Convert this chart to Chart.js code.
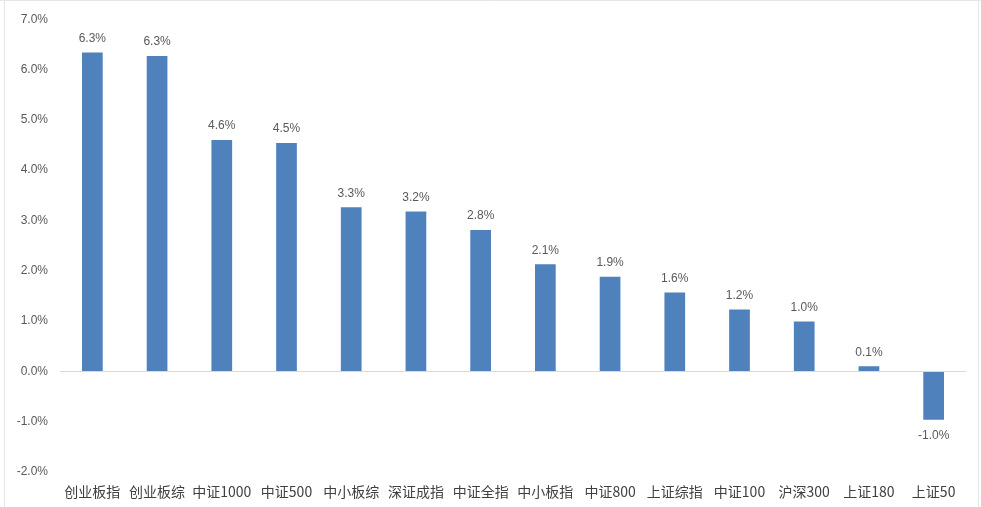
<!DOCTYPE html>
<html>
<head>
<meta charset="utf-8">
<script src="https://cdn.jsdelivr.net/npm/chart.js@4"></script>
<style>
  html, body { margin: 0; padding: 0; background: #fff; }
  #wrap { width: 981px; height: 507px; position: relative; }
</style>
</head>
<body>
<div id="wrap"><canvas id="barChart"></canvas></div>
<script>
const categories = ['创业板指', '创业板综', '中证1000', '中证500', '中小板综', '深证成指', '中证全指',
  '中小板指', '中证800', '上证综指', '中证100', '沪深300', '上证180', '上证50'];
const returns = [6.34, 6.27, 4.60, 4.54, 3.26, 3.18, 2.81, 2.13, 1.88, 1.57, 1.23, 0.99, 0.10, -0.96];
const yTicks = [-2, -1, 0, 1, 2, 3, 4, 5, 6, 7];

const barLabels = {
  id: 'barLabels',
  afterDatasetsDraw(chart) {
    const ctx = chart.ctx;
    const meta = chart.getDatasetMeta(0);
    ctx.save();
    ctx.font = '12px "Liberation Sans", Arial, sans-serif';
    ctx.fillStyle = '#595959';
    ctx.textAlign = 'center';
    ctx.textBaseline = 'middle';
    meta.data.forEach((bar, i) => {
      const v = returns[i];
      const y = v >= 0 ? bar.y - 14 : bar.y + 16;
      ctx.fillText(v.toFixed(1) + '%', bar.x, y);
    });
    ctx.restore();
  }
};

const frame = {
  id: 'frame',
  beforeDraw(chart) {
    const ctx = chart.ctx;
    ctx.save();
    ctx.strokeStyle = '#e6e6e6';
    ctx.lineWidth = 1;
    ctx.beginPath();
    ctx.moveTo(4.5, 0); ctx.lineTo(4.5, 507);
    ctx.moveTo(978.5, 0); ctx.lineTo(978.5, 507);
    ctx.moveTo(0, 0.5); ctx.lineTo(981, 0.5);
    ctx.stroke();
    ctx.restore();
  }
};

new Chart(document.getElementById('barChart'), {
  type: 'bar',
  data: {
    labels: categories,
    datasets: [{
      data: returns,
      backgroundColor: '#4f81bd',
      barPercentage: 0.32,
      categoryPercentage: 1
    }]
  },
  options: {
    responsive: true,
    maintainAspectRatio: false,
    animation: false,
    layout: { padding: { left: 0, right: 15, top: 10, bottom: 0 } },
    plugins: { legend: { display: false }, tooltip: { enabled: false } },
    scales: {
      x: {
        grid: { display: false, drawTicks: false },
        border: { display: false },
        ticks: {
          padding: 11,
          color: '#404040',
          font: { family: '"Noto Sans CJK SC", sans-serif', size: 14 },
          maxRotation: 0,
          autoSkip: false
        },
        afterFit(scale) { scale.height = 35; }
      },
      y: {
        min: -2,
        max: 7,
        afterBuildTicks(scale) { scale.ticks = yTicks.map(v => ({ value: v })); },
        grid: {
          drawTicks: false,
          lineWidth: 1,
          color: ctx => ctx.tick && ctx.tick.value === 0 ? '#d9d9d9' : 'rgba(0,0,0,0)'
        },
        border: { display: false },
        ticks: {
          padding: 12,
          color: '#595959',
          font: { family: '"Liberation Sans", Arial, sans-serif', size: 12 },
          callback: v => v.toFixed(1) + '%'
        },
        afterFit(scale) { scale.width = 60; }
      }
    }
  },
  plugins: [frame, barLabels]
});
</script>
</body>
</html>
